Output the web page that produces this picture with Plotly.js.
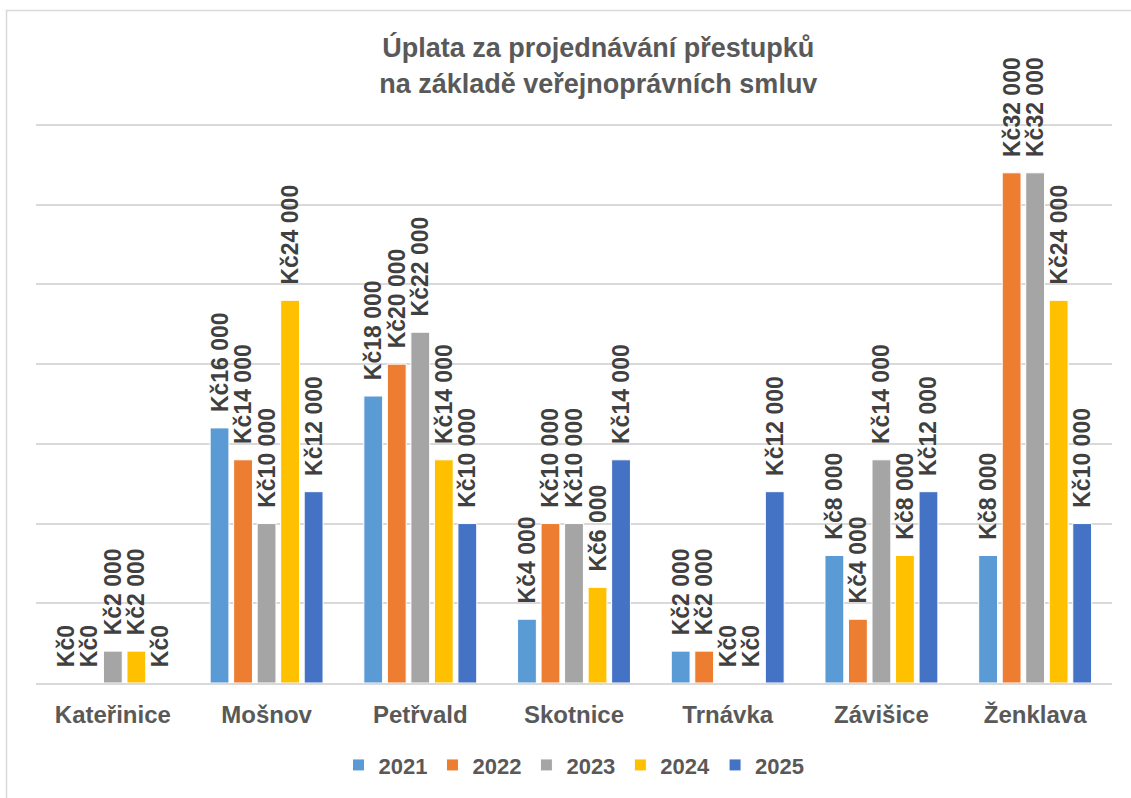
<!DOCTYPE html>
<html>
<head>
<meta charset="utf-8">
<script src="https://cdn.plot.ly/plotly-3.0.1.min.js"></script>
<style>html,body{margin:0;padding:0;background:#fff;}#chart{width:1131px;height:798px;}</style>
</head>
<body>
<div id="chart"></div>
<script>
const categories = ["Kateřinice", "Mošnov", "Petřvald", "Skotnice", "Trnávka", "Závišice", "Ženklava"];
const years = ["2021", "2022", "2023", "2024", "2025"];
const v2021 = [0, 16000, 18000, 4000, 2000, 8000, 8000];
const v2022 = [0, 14000, 20000, 10000, 2000, 4000, 32000];
const v2023 = [2000, 10000, 22000, 10000, 0, 14000, 32000];
const v2024 = [2000, 24000, 14000, 6000, 0, 8000, 24000];
const v2025 = [0, 12000, 10000, 14000, 12000, 12000, 10000];
const seriesValues = [v2021, v2022, v2023, v2024, v2025];
const colors = ["#5B9BD5", "#ED7D31", "#A5A5A5", "#FFC000", "#4472C4"];
const gridValues = [5000, 10000, 15000, 20000, 25000, 30000, 35000];
const titleText = "Úplata za projednávání přestupků<br>na základě veřejnoprávních smluv";

const FONT = "Liberation Sans, Arial, sans-serif";
const traces = years.map((yr, i) => ({
  type: "bar",
  name: yr,
  x: categories,
  y: seriesValues[i],
  marker: {color: colors[i], line: {color: "#ffffff", width: 1}},
  texttemplate: "\u00a0\u00a0Kč%{y:,.0f}",
  textposition: "outside",
  textangle: -90,
  constraintext: "none",
  cliponaxis: false,
  textfont: {family: FONT, size: 23, color: "#404040", weight: "bold"},
  hoverinfo: "none"
}));

const layout = {
  width: 1131, height: 798,
  margin: {l: 36, r: 19, t: 117, b: 112},
  paper_bgcolor: "#ffffff", plot_bgcolor: "#ffffff",
  separators: ", ",
  font: {family: FONT},
  title: {
    text: titleText,
    font: {family: FONT, size: 27, color: "#595959", weight: "bold"},
    x: 0.529, xanchor: "center", y: 0.928, yanchor: "top"
  },
  barmode: "group",
  bargap: 0.235,
  bargroupgap: 0.2,
  showlegend: true,
  legend: {
    orientation: "h", x: 0.5, xanchor: "center", y: -0.108, yanchor: "top",
    font: {family: FONT, size: 22, color: "#595959", weight: "bold"},
    itemwidth: 30, traceorder: "normal"
  },
  xaxis: {
    tickfont: {family: FONT, size: 24, color: "#595959", weight: "bold"},
    ticklabelstandoff: 9,
    showline: true, linecolor: "#d9d9d9", linewidth: 2,
    ticks: "", showgrid: false, fixedrange: true
  },
  yaxis: {
    range: [0, 35500], tickvals: gridValues, showticklabels: false,
    showgrid: true, gridcolor: "#d9d9d9", gridwidth: 2,
    zeroline: false, ticks: "", fixedrange: true
  },
  shapes: [{
    type: "rect", xref: "paper", yref: "paper",
    x0: -0.0274, x1: 1.2, y0: -0.5, y1: 1.188,
    line: {color: "#d9d9d9", width: 1.5}, fillcolor: "rgba(0,0,0,0)", layer: "below"
  }]
};

Plotly.newPlot("chart", traces, layout, {displayModeBar: false, staticPlot: true});
</script>
</body>
</html>
